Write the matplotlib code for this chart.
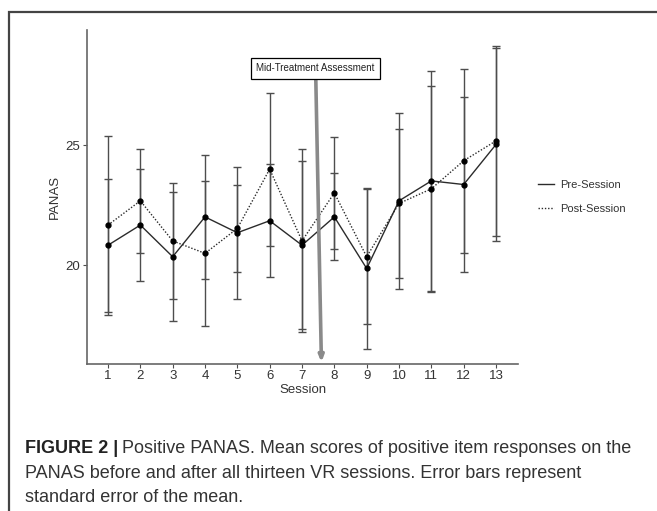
import matplotlib
matplotlib.use("Agg")
import matplotlib.pyplot as plt
from matplotlib.patches import Rectangle
from matplotlib.lines import Line2D

plt.rcParams["font.family"] = ["Liberation Sans", "DejaVu Sans"]

sessions = list(range(1, 14))
pre_mean = [20.83, 21.67, 20.35, 22.01, 21.35, 21.85, 20.83, 22.01, 19.86, 22.68, 23.51, 23.36, 25.03]
pre_se = [2.77, 2.33, 2.68, 2.60, 2.75, 2.36, 3.50, 1.81, 3.36, 3.68, 4.57, 3.65, 4.04]
post_mean = [21.67, 22.68, 21.01, 20.49, 21.53, 24.00, 21.01, 23.01, 20.35, 22.57, 23.18, 24.35, 25.18]
post_se = [3.73, 2.17, 2.42, 3.01, 1.80, 3.19, 3.81, 2.32, 2.82, 3.12, 4.29, 3.84, 3.95]
y_ticks = [20, 25]

fig = plt.figure(figsize=(6.57, 5.11), dpi=100)
W, H = 657, 511
ax = fig.add_axes([87 / W, 1 - 363.5 / H, (518 - 87) / W, (363.5 - 30) / H])

line_col = "#2b2b2b"
err_col = "#4d4d4d"

ax.errorbar(sessions, pre_mean, yerr=pre_se, color=line_col, lw=1.0, ecolor=err_col,
            elinewidth=1.0, capsize=3, capthick=1.0, marker="o", ms=3.5, mfc="black", mec="black")
ax.errorbar(sessions, post_mean, yerr=post_se, color=line_col, lw=1.0, ls=(0, (1, 1.3)),
            ecolor=err_col, elinewidth=1.0, capsize=3, capthick=1.0, marker="o", ms=3.5,
            mfc="black", mec="black")

ax.set_xlim(0.35, 13.68)
ax.set_ylim(15.9, 29.8)
ax.set_xticks(sessions)
ax.set_yticks(y_ticks)
ax.tick_params(colors="#4d4d4d", labelcolor="#333333", labelsize=9.5, length=3, width=0.8, pad=2)
for side in ["top", "right"]:
    ax.spines[side].set_visible(False)
for side in ["left", "bottom"]:
    ax.spines[side].set_color("#666666")
    ax.spines[side].set_linewidth(1.2)
ax.set_xlabel("Session", fontsize=9.5, color="#333333", labelpad=1)
ax.set_ylabel("PANAS", fontsize=9.5, color="#333333", labelpad=3)

ax.annotate("Mid-Treatment Assessment", xy=(7.6, 15.95), xytext=(7.42, 28.2),
            fontsize=7, ha="center", va="center", color="#222222",
            bbox=dict(boxstyle="square,pad=0.55", fc="white", ec="black", lw=0.9),
            arrowprops=dict(arrowstyle="-|>,head_length=0.5,head_width=0.2", color="#8a8a8a",
                            lw=2.6, shrinkA=0, shrinkB=0))

handles = [Line2D([], [], color=line_col, lw=1.0),
           Line2D([], [], color=line_col, lw=1.0, ls=(0, (1, 1.3)))]
fig.legend(handles, ["Pre-Session", "Post-Session"], loc="center left",
           bbox_to_anchor=(528 / W, 1 - 197 / H), frameon=False, fontsize=8,
           handlelength=1.4, handletextpad=0.6, labelspacing=1.3, labelcolor="#333333")

# outer frame
fig.add_artist(Rectangle((9 / W, -0.2), 1.2, 1.2 - 12 / H, transform=fig.transFigure,
                         fill=False, ec="#444444", lw=1.6))

cap_fs = 13
cap_col = "#333333"
bold = fig.text(25 / W, 1 - 452.5 / H, "FIGURE 2 |", fontsize=cap_fs, fontweight="bold",
                va="baseline", ha="left", color="#222222")
fig.canvas.draw()
bb = bold.get_window_extent()
fig.text(bb.x1 / W + 4 / W, 1 - 452.5 / H,
         "Positive PANAS. Mean scores of positive item responses on the",
         fontsize=cap_fs, va="baseline", ha="left", color=cap_col)
fig.text(25 / W, 1 - 477.5 / H,
         "PANAS before and after all thirteen VR sessions. Error bars represent",
         fontsize=cap_fs, va="baseline", ha="left", color=cap_col)
fig.text(25 / W, 1 - 502 / H, "standard error of the mean.",
         fontsize=cap_fs, va="baseline", ha="left", color=cap_col)

fig.savefig("out.png", dpi=100)
